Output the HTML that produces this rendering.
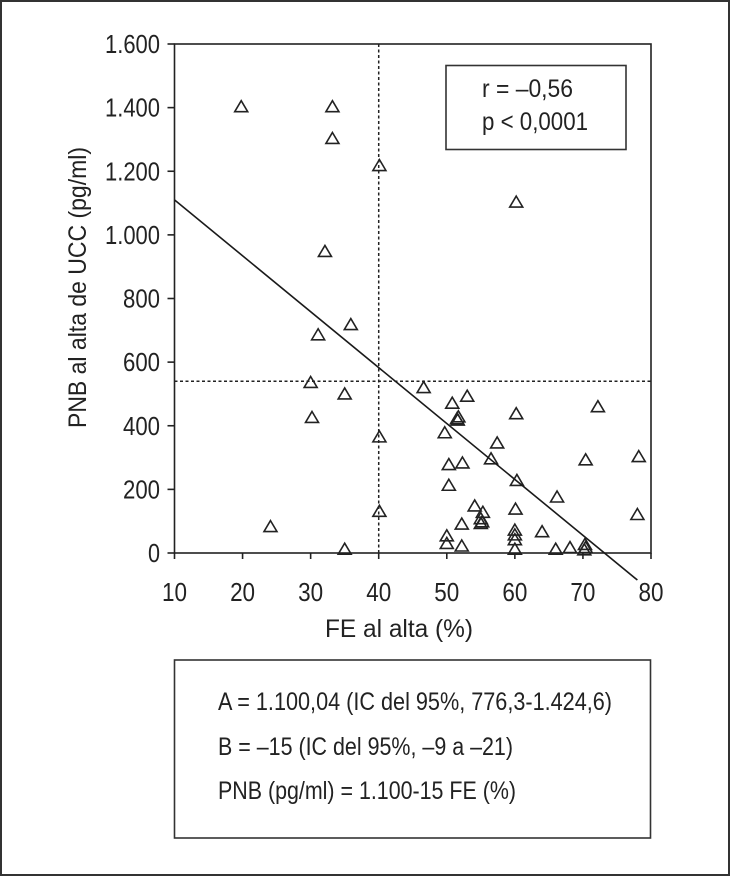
<!DOCTYPE html>
<html lang="es">
<head>
<meta charset="utf-8">
<title>PNB al alta de UCC frente a FE al alta</title>
<style>
html,body{margin:0;padding:0;background:#fff}
svg{display:block}
text{font-family:"Liberation Sans",Arial,sans-serif;fill:#222}
</style>
</head>
<body>
<svg id="chart" xmlns="http://www.w3.org/2000/svg" width="730" height="876" viewBox="0 0 730 876">
  <rect x="1" y="1" width="728" height="874" fill="#fff" stroke="#333" stroke-width="2"/>
  <g id="grid-layer"></g>
  <g id="axis-layer"></g>
  <g id="point-layer"></g>
  <g id="fit-layer"></g>
  <text x="399" y="637" font-size="25" text-anchor="middle" textLength="148" lengthAdjust="spacingAndGlyphs">FE al alta (%)</text>
  <text transform="translate(86 287.5) rotate(-90)" font-size="25" text-anchor="middle" textLength="281" lengthAdjust="spacingAndGlyphs">PNB al alta de UCC (pg/ml)</text>
  <rect x="446" y="65.5" width="180" height="84" fill="#fff" stroke="#333" stroke-width="1.6"/>
  <text x="482" y="97" font-size="25" textLength="91" lengthAdjust="spacingAndGlyphs">r = –0,56</text>
  <text x="482" y="130" font-size="25" textLength="106" lengthAdjust="spacingAndGlyphs">p &lt; 0,0001</text>
  <rect x="174.5" y="660" width="476" height="178" fill="#fff" stroke="#333" stroke-width="1.6"/>
  <text x="218" y="710" font-size="25" textLength="394" lengthAdjust="spacingAndGlyphs">A = 1.100,04 (IC del 95%, 776,3-1.424,6)</text>
  <text x="218" y="755" font-size="25" textLength="295" lengthAdjust="spacingAndGlyphs">B = –15 (IC del 95%, –9 a –21)</text>
  <text x="218" y="799" font-size="25" textLength="298" lengthAdjust="spacingAndGlyphs">PNB (pg/ml) = 1.100-15 FE (%)</text>
</svg>
<script>
const xTicks = [10, 20, 30, 40, 50, 60, 70, 80];
const yTicks = [0, 200, 400, 600, 800, 1000, 1200, 1400, 1600];
const yTickLabels = ['0', '200', '400', '600', '800', '1.000', '1.200', '1.400', '1.600'];
const feValues = [19.8, 33.2, 33.2, 40.1, 60.2, 32.1, 35.9, 31.1, 30, 35, 30.2, 40.1, 40.1, 24.1, 35, 46.6, 53, 50.8, 51.5, 51.6, 51.7, 60.2, 72.2, 49.7, 57.4, 56.5, 70.4, 78.2, 50.3, 52.3, 50.3, 60.3, 66.2, 54.1, 55.3, 60.1, 78, 52.2, 55, 55.2, 55, 60, 60, 60, 60, 64, 50, 50, 52.2, 66, 68.1, 70.3, 70.4, 70.2];
const pnbValues = [1403, 1403, 1303, 1218, 1103, 948, 718, 686, 536, 500, 426, 365, 131, 83, 12, 520, 493, 471, 422, 418, 428, 438, 460, 378, 346, 296, 293, 303, 278, 283, 213, 228, 176, 148, 128, 138, 121, 91, 108, 98, 93, 72, 57, 42, 12, 67, 54, 30, 22, 12, 17, 27, 17, 10];
const cutoffFe = [40];
const cutoffPnb = [540];
const fitFe = [10, 78];
const fitPnb = [1110, -85];

const NS = 'http://www.w3.org/2000/svg';
const xScale = v => 174.5 + (v - 10) * (651 - 174.5) / 70;
const yScale = v => 553 - v * (553 - 44) / 1600;
const make = (parent, tag, props) => {
  const el = document.createElementNS(NS, tag);
  for (const k in props) el.setAttribute(k, props[k]);
  parent.appendChild(el);
  return el;
};
const axisLayer = document.getElementById('axis-layer');
const gridLayer = document.getElementById('grid-layer');
const pointLayer = document.getElementById('point-layer');
const fitLayer = document.getElementById('fit-layer');
const ink = '#222';

const plotFrame = make(axisLayer, 'rect', {x: xScale(10), y: yScale(1600), width: xScale(80) - xScale(10), height: yScale(0) - yScale(1600), fill: 'none', stroke: ink, 'stroke-width': 1.6});



xTicks.forEach(t => {
  const tick = make(axisLayer, 'line', {x1: xScale(t), x2: xScale(t), y1: yScale(0), y2: yScale(0) + 6, stroke: ink, 'stroke-width': 1.6});
  
  
  const label = make(axisLayer, 'text', {x: xScale(t), y: 601, 'font-size': 25.5, 'text-anchor': 'middle', textLength: 25, lengthAdjust: 'spacingAndGlyphs'});
  
  
  label.textContent = String(t);
});

yTicks.forEach((t, i) => {
  const tick = make(axisLayer, 'line', {x1: xScale(10) - 7, x2: xScale(10), y1: yScale(t), y2: yScale(t), stroke: ink, 'stroke-width': 1.6});
  
  
  const text = yTickLabels[i];
  const label = make(axisLayer, 'text', {x: 160, y: yScale(t) + 9, 'font-size': 25.5, 'text-anchor': 'end', textLength: text.length === 5 ? 55 : text.length === 3 ? 37 : 12, lengthAdjust: 'spacingAndGlyphs'});
  
  
  label.textContent = text;
});

cutoffFe.forEach(v => {
  const line = make(gridLayer, 'line', {x1: xScale(v), x2: xScale(v), y1: yScale(0), y2: yScale(1600), stroke: ink, 'stroke-width': 1.5, 'stroke-dasharray': '3 2.5'});
  
  
});
cutoffPnb.forEach(v => {
  const line = make(gridLayer, 'line', {x1: xScale(10), x2: xScale(80), y1: yScale(v), y2: yScale(v), stroke: ink, 'stroke-width': 1.5, 'stroke-dasharray': '3 2.5'});
  
  
});

feValues.forEach((fe, i) => {
  const cx = xScale(fe), cy = yScale(pnbValues[i]);
  const pts = [[cx, cy - 6], [cx + 6.5, cy + 5], [cx - 6.5, cy + 5]].map(p => p.join(',')).join(' ');
  const point = make(pointLayer, 'polygon', {points: pts, fill: 'none', stroke: ink, 'stroke-width': 1.6});
  
  
});

const fitLine = make(fitLayer, 'line', {x1: xScale(fitFe[0]), y1: yScale(fitPnb[0]), x2: xScale(fitFe[1]), y2: yScale(fitPnb[1]), stroke: '#1a1a1a', 'stroke-width': 1.6});


</script>
</body>
</html>
